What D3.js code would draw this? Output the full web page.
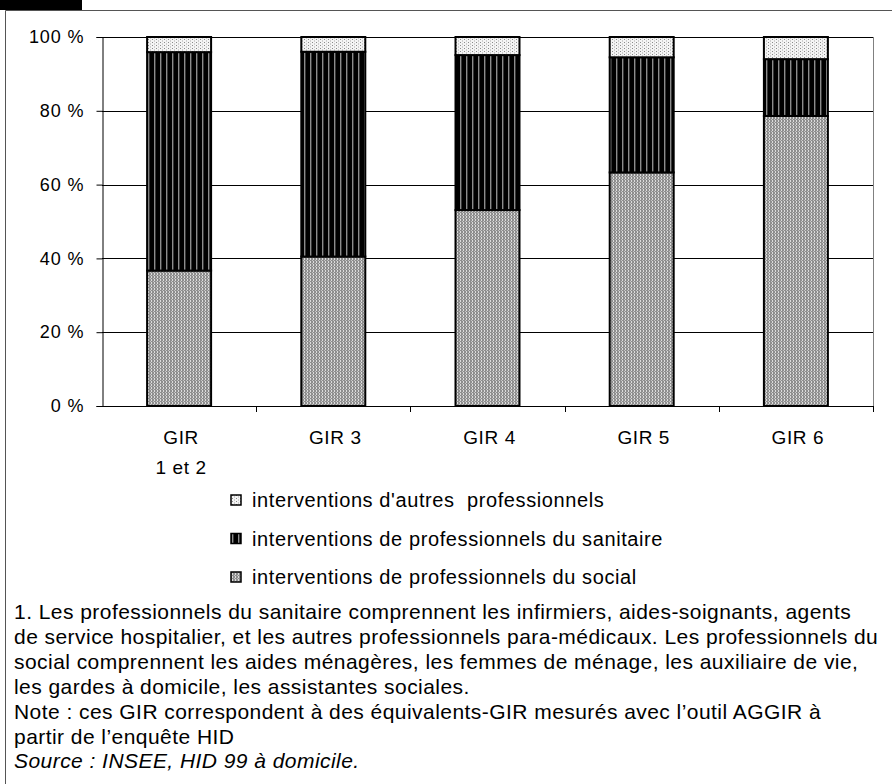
<!DOCTYPE html>
<html>
<head>
<meta charset="utf-8">
<script src="https://cdn.jsdelivr.net/npm/d3@7/dist/d3.min.js"></script>
<style>
  html, body { margin: 0; padding: 0; background: #fff; }
  svg { display: block; font-family: "Liberation Sans", Arial, sans-serif; }
  text { white-space: pre; }
</style>
</head>
<body>
<svg id="chart" width="892" height="784"></svg>
<script>
// Répartition des interventions professionnelles par GIR (en %)
const categories = ["GIR\n1 et 2", "GIR 3", "GIR 4", "GIR 5", "GIR 6"];
const social    = [36.7, 40.5, 53.1, 63.3, 78.6];
const sanitaire = [59.2, 55.5, 42.0, 31.2, 15.4];
const autres    = [4.1, 4.0, 4.9, 5.5, 6.0];
const yTicks = [0, 20, 40, 60, 80, 100];

const seriesNames = [
  "interventions de professionnels du social",
  "interventions de professionnels du sanitaire",
  "interventions d'autres  professionnels"
];
const seriesKeys = ["social", "sanitaire", "autres"];

const notes = [
  "1. Les professionnels du sanitaire comprennent les infirmiers, aides-soignants, agents",
  "de service hospitalier, et les autres professionnels para-médicaux. Les professionnels du",
  "social comprennent les aides ménagères, les femmes de ménage, les auxiliaire de vie,",
  "les gardes à domicile, les assistantes sociales.",
  "Note : ces GIR correspondent à des équivalents-GIR mesurés avec l’outil AGGIR à",
  "partir de l’enquête HID"
];
const source = "Source : INSEE, HID 99 à domicile.";

const svg = d3.select("#chart");

// Fill patterns
const defs = svg.append("defs");
const pDots = defs.append("pattern").attr("id", "p-autres")
  .attr("patternUnits", "userSpaceOnUse").attr("width", 4).attr("height", 3);
pDots.append("rect").attr("width", 4).attr("height", 3).attr("fill", "#f4f4f4");
pDots.append("rect").attr("x", 0).attr("y", 0).attr("width", 1).attr("height", 1).attr("fill", "#8a8a8a");
pDots.append("rect").attr("x", 2).attr("y", 1.5).attr("width", 1).attr("height", 1).attr("fill", "#a8a8a8");

const pStripes = defs.append("pattern").attr("id", "p-sanitaire")
  .attr("patternUnits", "userSpaceOnUse").attr("width", 6).attr("height", 6);
pStripes.append("rect").attr("width", 6).attr("height", 6).attr("fill", "#000");
pStripes.append("rect").attr("x", 4).attr("width", 1.4).attr("height", 6).attr("fill", "#8c8c8c");

const pCheck = defs.append("pattern").attr("id", "p-social")
  .attr("patternUnits", "userSpaceOnUse").attr("width", 3).attr("height", 3);
pCheck.append("rect").attr("width", 3).attr("height", 3).attr("fill", "#8e8e8e");
pCheck.append("rect").attr("x", 1).attr("y", 0).attr("width", 1).attr("height", 2).attr("fill", "#dcdcdc");
pCheck.append("rect").attr("x", 0).attr("y", 2).attr("width", 1).attr("height", 1).attr("fill", "#c4c4c4");

// Outer frame and header tab
svg.append("rect").attr("x", 0).attr("y", 0).attr("width", 82).attr("height", 10).attr("fill", "#000");
svg.append("path")
  .attr("d", "M5.5,784 V10.5 H892")
  .attr("fill", "none").attr("stroke", "#555").attr("stroke-width", 1);

// Plot geometry
const plotLeft = 102, plotRight = 873, plotTop = 37, plotBottom = 406;

const x = d3.scaleBand().domain(categories).range([plotLeft, plotRight]).paddingInner(0.585).paddingOuter(0.2925);
const y = d3.scaleLinear().domain([0, 100]).range([plotBottom, plotTop]);

// Gridlines
svg.append("g").selectAll("line").data(yTicks.filter(d => d > 0)).join("line")
  .attr("x1", plotLeft).attr("x2", plotRight)
  .attr("y1", d => Math.round(y(d)) + 0.5).attr("y2", d => Math.round(y(d)) + 0.5)
  .attr("stroke", "#000").attr("stroke-width", 1);

// Right border of plot area
svg.append("line").attr("x1", plotRight + 0.5).attr("x2", plotRight + 0.5).attr("y1", plotTop).attr("y2", plotBottom)
  .attr("stroke", "#808080");

// Stacked bars
const rows = categories.map((c, i) => ({ cat: c, social: social[i], sanitaire: sanitaire[i], autres: autres[i] }));
const stacked = d3.stack().keys(seriesKeys)(rows);

const gBars = svg.append("g");
stacked.forEach(layer => {
  gBars.append("g").selectAll("rect").data(layer).join("rect")
    .attr("x", d => x(d.data.cat))
    .attr("width", x.bandwidth())
    .attr("y", d => y(d[1]))
    .attr("height", d => y(d[0]) - y(d[1]))
    .attr("fill", `url(#p-${layer.key})`)
    .attr("stroke", "#000").attr("stroke-width", 2);
});

// Y axis
const yAxis = d3.axisLeft(y).tickValues(yTicks).tickSize(6).tickPadding(12)
  .tickFormat(d => d + " %");
const gy = svg.append("g").attr("transform", `translate(${plotLeft + 0.5},0)`).call(yAxis);
gy.select(".domain").attr("stroke", "#000");
gy.selectAll(".tick line").attr("stroke", "#000");
gy.selectAll("text").attr("font-size", 18).attr("fill", "#000").attr("letter-spacing", 0.9)
  .attr("font-family", "'Liberation Sans', Arial, sans-serif");

// X axis baseline and ticks between categories
svg.append("line").attr("x1", plotLeft).attr("x2", plotRight)
  .attr("y1", plotBottom + 0.5).attr("y2", plotBottom + 0.5).attr("stroke", "#000");
const step = x.step();
const bounds = d3.range(1, categories.length + 1).map(i => plotLeft + i * step);
svg.append("g").selectAll("line").data(bounds).join("line")
  .attr("x1", d => Math.round(d) + 0.5).attr("x2", d => Math.round(d) + 0.5)
  .attr("y1", plotBottom).attr("y2", plotBottom + 6).attr("stroke", "#000");

// Category labels
const gx = svg.append("g");
categories.forEach(c => {
  const cx = x(c) + x.bandwidth() / 2;
  const lines = c.split("\n");
  lines.forEach((t, j) => {
    gx.append("text").attr("x", cx + 2).attr("y", 444 + j * 30)
      .attr("text-anchor", "middle").attr("font-size", 19).attr("letter-spacing", 0.6).text(t);
  });
});

// Legend
const legendItems = [
  { key: "autres", name: seriesNames[2] },
  { key: "sanitaire", name: seriesNames[1] },
  { key: "social", name: seriesNames[0] }
];
const gl = svg.append("g");
legendItems.forEach((it, i) => {
  const cy = 500 + i * 38.5;
  gl.append("rect").attr("x", 231).attr("y", cy - 5).attr("width", 10).attr("height", 10)
    .attr("fill", `url(#p-${it.key})`).attr("stroke", "#000").attr("stroke-width", 1.5);
  gl.append("text").attr("x", 252).attr("y", cy + 7).attr("font-size", 20)
    .attr("letter-spacing", 0.6).text(it.name);
});

// Notes and source
const gn = svg.append("g").attr("font-size", 21).attr("letter-spacing", 0.45);
notes.forEach((t, i) => {
  gn.append("text").attr("x", 14).attr("y", 619 + i * 24.9).text(t);
});
gn.append("text").attr("x", 14).attr("y", 619 + notes.length * 24.9)
  .attr("font-style", "italic").text(source);
</script>
</body>
</html>
